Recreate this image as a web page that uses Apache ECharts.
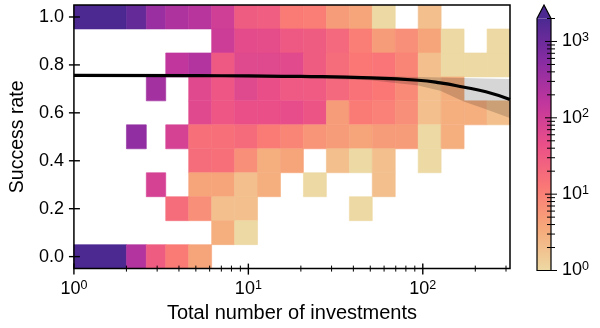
<!DOCTYPE html>
<html><head><meta charset="utf-8">
<script src="https://cdn.jsdelivr.net/npm/echarts@6/dist/echarts.min.js"></script>
<style>html,body{margin:0;padding:0;background:#fff}#c{width:600px;height:328px}</style>
</head><body><div id="c"></div>
<script>
// ---------- data ----------
const xEdges = [1, 2, 2.6, 3.36, 4.55, 6.16, 8.34, 11.29, 15.28, 20.69, 28.01, 37.93, 51.35, 69.52, 94.12, 127.4, 172.5, 233.6, 316.2];
const yRows = [1.0, 0.9, 0.8, 0.7, 0.6, 0.5, 0.4, 0.3, 0.2, 0.1, 0.0];
// counts[row][col]; 0 = empty cell
const counts = [
  [2800, 1200, 380, 230, 190, 100, 30, 27, 12, 11,  5,  4,  1,  0,  2,  0,  0,  0],
  [   0,    0,   0,   0,   0, 110, 55, 52, 33, 30, 20, 11,  5,  7,  4,  1,  0,  1],
  [   0,    0,   0, 160, 210,  33, 62, 62, 58, 30, 18, 13, 14,  9,  2,  1,  1,  1],
  [   0,    0, 300,   0,  60,  36, 62, 46, 32, 31, 20, 15, 13,  8,  2,  3,  0,  0],
  [   0,    0,   0,   0,  60,  36, 45, 45, 50, 38,  5, 12, 10,  7,  2,  3,  3,  2],
  [   0,  450,   0,  85,  16,  16, 19, 12,  9,  6,  5,  4,  5,  5,  1,  3,  0,  0],
  [   0,    0,   0,   0,  18,  16,  7,  3,  4,  0,  2,  1,  2,  0,  1,  0,  0,  0],
  [   0,    0,  85,   0,   4,   4,  2,  3,  0,  1,  0,  0,  2,  0,  0,  0,  0,  0],
  [   0,    0,   0,  18,   7,   2,  2,  0,  0,  0,  0,  1,  0,  0,  0,  0,  0,  0],
  [   0,    0,   0,   0,   0,   3,  1,  0,  0,  0,  0,  0,  0,  0,  0,  0,  0,  0],
  [2500,  210,  30,  12,   4,   0,  0,  0,  0,  0,  0,  0,  0,  0,  0,  0,  0,  0]
];
const fitX = [1, 5, 10, 20, 50, 94, 126, 170, 230, 316];
const fitY = [0.756, 0.755, 0.754, 0.752, 0.746, 0.736, 0.725, 0.708, 0.688, 0.656];
const bandUpper = [0.760, 0.759, 0.758, 0.757, 0.754, 0.750, 0.747, 0.745, 0.743, 0.741];
const bandLower = [0.752, 0.751, 0.749, 0.745, 0.736, 0.714, 0.692, 0.648, 0.615, 0.578];
const xMajorTicks = [1, 10, 100];
const xMinorTicks = [2, 3, 4, 5, 6, 7, 8, 9, 20, 30, 40, 50, 60, 70, 80, 90, 200, 300];
const yTicks = [0, 0.2, 0.4, 0.6, 0.8, 1.0];
const cbarMajorTicks = [1, 10, 100, 1000];
const cbarMinorTicks = [2, 3, 4, 5, 6, 7, 8, 9, 20, 30, 40, 50, 60, 70, 80, 90, 200, 300, 400, 500, 600, 700, 800, 900, 2000];
const cbarMin = 1, cbarMax = 2000;
const xRange = [1, 316.23], yRange = [-0.05, 1.05];
const rowHalf = 0.05;
const cmap = ['#edd9a3', '#f6a97a', '#fa7876', '#ea4f88', '#c0369d', '#872ca2', '#4b2991'];

// ---------- build ----------
const FONT = 'Liberation Sans, Arial, sans-serif';
const cells = [];
counts.forEach((row, r) => row.forEach((v, c) => {
  if (v > 0) cells.push([xEdges[c], xEdges[c + 1], yRows[r], v, Math.log10(v)]);
}));
const supRich = {
  b: { fontSize: 18, lineHeight: 21, fontFamily: FONT, color: '#000' },
  s: { fontSize: 12.5, lineHeight: 12, verticalAlign: 'top', fontFamily: FONT, color: '#000' }
};
function powLabel(v) {
  const e = Math.round(Math.log10(v));
  return '{b|10}{s|' + e + '}';
}
const xTickData = xMajorTicks.map(v => [v, yRange[0], 1]).concat(xMinorTicks.map(v => [v, yRange[0], 0]));
const yTickData = yTicks.map(v => [xRange[0], v, 1]);
const cbTickData = cbarMajorTicks.map(v => [1, v, 1]).concat(cbarMinorTicks.map(v => [1, v, 0]));

const chart = echarts.init(document.getElementById('c'), null, { renderer: 'canvas' });
chart.setOption({
  animation: false,
  textStyle: { fontFamily: FONT, color: '#000' },
  grid: [
    { left: 73.5, right: 90, top: 5, bottom: 57.5, containLabel: false },
    { left: 537, width: 14, top: 18.5, bottom: 57.5, containLabel: false }
  ],
  xAxis: [
    { type: 'log', logBase: 10, gridIndex: 0, min: xRange[0], max: xRange[1],
      axisLine: { show: false }, axisTick: { show: false }, splitLine: { show: false },
      axisLabel: { customValues: xMajorTicks, formatter: powLabel, rich: supRich, margin: 10 },
      name: 'Total number of investments', nameLocation: 'middle', nameGap: 31,
      nameTextStyle: { fontSize: 20, fontFamily: FONT, color: '#000' } },
    { type: 'value', gridIndex: 1, min: 0, max: 1, show: false }
  ],
  yAxis: [
    { type: 'value', gridIndex: 0, min: yRange[0], max: yRange[1],
      axisLine: { show: false }, axisTick: { show: false }, splitLine: { show: false },
      axisLabel: { customValues: yTicks, formatter: v => v.toFixed(1), fontSize: 18, margin: 10, color: '#000' },
      name: 'Success rate', nameLocation: 'middle', nameGap: 43,
      nameTextStyle: { fontSize: 19.5, fontFamily: FONT, color: '#000' } },
    { type: 'log', logBase: 10, gridIndex: 1, min: cbarMin, max: cbarMax, position: 'right',
      axisLine: { show: false }, axisTick: { show: false }, splitLine: { show: false },
      axisLabel: { customValues: cbarMajorTicks, formatter: powLabel, rich: supRich, margin: 11 } }
  ],
  visualMap: {
    type: 'continuous', show: false, seriesIndex: 0, dimension: 4,
    min: 0, max: Math.log10(cbarMax), inRange: { color: cmap }
  },
  series: [
    { type: 'custom', xAxisIndex: 0, yAxisIndex: 0, z: 2, clip: true,
      encode: { x: [0, 1], y: 2 }, data: cells,
      renderItem: (params, api) => {
        const p0 = api.coord([api.value(0), api.value(2) + rowHalf]);
        const p1 = api.coord([api.value(1), api.value(2) - rowHalf]);
        const col = api.visual('color');
        return { type: 'rect', shape: { x: p0[0], y: p0[1], width: p1[0] - p0[0], height: p1[1] - p0[1] },
          style: { fill: col, stroke: col, lineWidth: 0.6 } };
      } },
    { type: 'custom', xAxisIndex: 0, yAxisIndex: 0, z: 3, clip: true,
      encode: { x: 0, y: 1 }, data: fitX.map((x, i) => [x, bandLower[i], bandUpper[i]]),
      renderItem: (params, api) => {
        if (params.dataIndex !== 0) return null;
        const pts = [];
        for (let i = 0; i < fitX.length; i++) pts.push(api.coord([fitX[i], bandUpper[i]]));
        for (let i = fitX.length - 1; i >= 0; i--) pts.push(api.coord([fitX[i], bandLower[i]]));
        return { type: 'polygon', shape: { points: pts, smooth: 0 }, style: { fill: 'rgba(0,0,0,0.16)' } };
      } },
    { type: 'line', xAxisIndex: 0, yAxisIndex: 0, z: 4, smooth: true, showSymbol: false, symbol: 'none',
      data: fitX.map((x, i) => [x, fitY[i]]), lineStyle: { color: '#000', width: 3.2 } },
    { type: 'custom', xAxisIndex: 0, yAxisIndex: 0, z: 6, clip: false,
      encode: { x: 0, y: 1 }, data: xTickData,
      renderItem: (params, api) => {
        const p = api.coord([api.value(0), api.value(1)]);
        const major = api.value(2) === 1;
        const inL = major ? 5 : 3, outL = major ? 6 : 3;
        return { type: 'line', shape: { x1: p[0], y1: p[1] - inL, x2: p[0], y2: p[1] + outL },
          style: { stroke: '#000', lineWidth: major ? 1.4 : 1 } };
      } },
    { type: 'custom', xAxisIndex: 0, yAxisIndex: 0, z: 6, clip: false,
      encode: { x: 0, y: 1 }, data: yTickData,
      renderItem: (params, api) => {
        const p = api.coord([api.value(0), api.value(1)]);
        return { type: 'line', shape: { x1: p[0] - 5, y1: p[1], x2: p[0] + 6, y2: p[1] },
          style: { stroke: '#000', lineWidth: 1.4 } };
      } },
    { type: 'custom', xAxisIndex: 0, yAxisIndex: 0, z: 7, clip: false,
      encode: { x: 0, y: 1 }, data: [[xRange[0], yRange[0]]],
      renderItem: (params, api) => {
        const a = api.coord([xRange[0], yRange[1]]);
        const b = api.coord([xRange[1], yRange[0]]);
        return { type: 'rect', shape: { x: a[0], y: a[1], width: b[0] - a[0], height: b[1] - a[1] },
          style: { fill: 'none', stroke: '#000', lineWidth: 1.5 } };
      } },
    { type: 'custom', xAxisIndex: 1, yAxisIndex: 1, z: 2, clip: false,
      encode: { x: 0, y: 1 }, data: [[0, cbarMin]],
      renderItem: (params, api) => {
        const bl = api.coord([0, cbarMin]);
        const tr = api.coord([1, cbarMax]);
        const mid = (bl[0] + tr[0]) / 2;
        const tip = tr[1] - 13.5;
        const stops = cmap.map((c, i) => ({ offset: i / (cmap.length - 1), color: c }));
        return { type: 'group', children: [
          { type: 'rect', shape: { x: bl[0], y: tr[1], width: tr[0] - bl[0], height: bl[1] - tr[1] },
            style: { fill: { type: 'linear', x: 0, y: 1, x2: 0, y2: 0, colorStops: stops } } },
          { type: 'polygon', shape: { points: [[bl[0], tr[1]], [tr[0], tr[1]], [mid, tip]] },
            style: { fill: cmap[cmap.length - 1] } },
          { type: 'polygon', shape: { points: [[bl[0], bl[1]], [bl[0], tr[1]], [mid, tip], [tr[0], tr[1]], [tr[0], bl[1]]] },
            style: { fill: 'none', stroke: '#000', lineWidth: 1.2 } }
        ] };
      } },
    { type: 'custom', xAxisIndex: 1, yAxisIndex: 1, z: 3, clip: false,
      encode: { x: 0, y: 1 }, data: cbTickData,
      renderItem: (params, api) => {
        const p = api.coord([api.value(0), api.value(1)]);
        const major = api.value(2) === 1;
        const inL = major ? 6 : 4, outL = major ? 6 : 4;
        return { type: 'line', shape: { x1: p[0] - inL, y1: p[1], x2: p[0] + outL, y2: p[1] },
          style: { stroke: '#000', lineWidth: 1 } };
      } }
  ]
});
</script>
</body></html>
